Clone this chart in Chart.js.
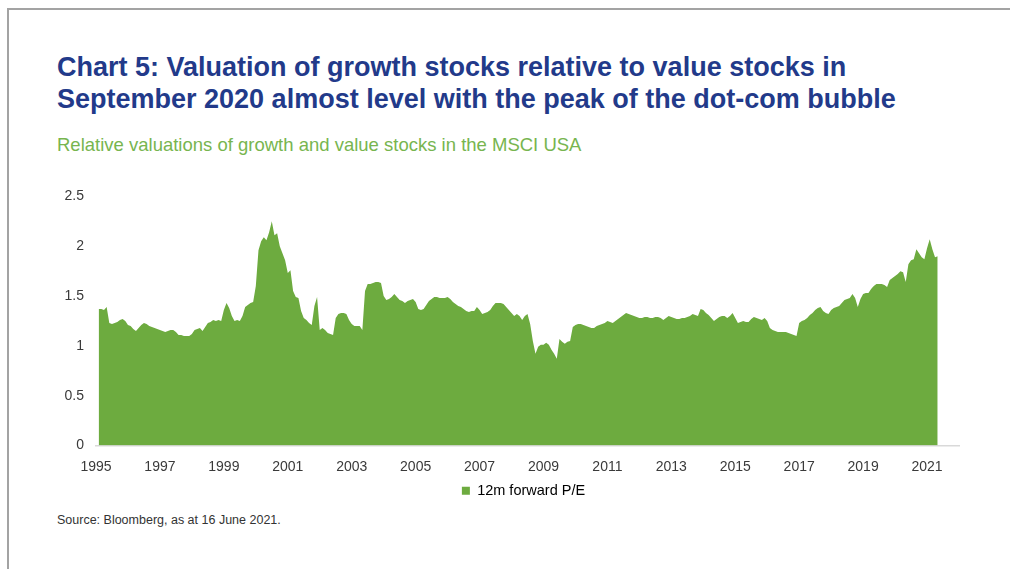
<!DOCTYPE html>
<html>
<head>
<meta charset="utf-8">
<script src="https://cdn.jsdelivr.net/npm/chart.js@4.4.1/dist/chart.umd.min.js"></script>
<style>
  html, body { margin: 0; padding: 0; background: #ffffff; }
  body { width: 1010px; height: 569px; position: relative; overflow: hidden;
         font-family: "Liberation Sans", Arial, sans-serif; }
  .frame { position: absolute; left: 7px; top: 8px; right: -10px; bottom: -10px;
           border-top: 2px solid #a3a3a3; border-left: 2px solid #a3a3a3; }
  .title { position: absolute; left: 57px; top: 51px; margin: 0;
           font-size: 27px; font-weight: bold; line-height: 32px; color: #223a8a; }
  .subtitle { position: absolute; left: 57px; top: 134px; margin: 0;
              font-size: 18.5px; color: #77b54f; }
  .source { position: absolute; left: 57px; top: 513px; margin: 0;
            font-size: 12.5px; color: #333333; }
  #wrap { position: absolute; left: 36px; top: 176px; width: 974px; height: 336px; }
</style>
</head>
<body>
<div class="frame"></div>
<h1 class="title">Chart 5: Valuation of growth stocks relative to value stocks in<br>September 2020 almost level with the peak of the dot-com bubble</h1>
<p class="subtitle">Relative valuations of growth and value stocks in the MSCI USA</p>
<div id="wrap"><canvas id="chart"></canvas></div>
<p class="source">Source: Bloomberg, as at 16 June 2021.</p>
<script>
// Month-end ratio of growth to value 12m forward P/E, MSCI USA, Feb 1995 - May 2021
const seriesName = '12m forward P/E';
const firstYear = 1995;
const firstMonth = 2;
const ratio = [
  // 1995 (Feb-Dec)
  1.37, 1.37, 1.36, 1.39, 1.23, 1.22, 1.23, 1.24, 1.26, 1.27, 1.25,
  // 1996
  1.21, 1.20, 1.17, 1.15, 1.18, 1.21, 1.23, 1.22, 1.20, 1.19, 1.18, 1.17,
  // 1997
  1.16, 1.15, 1.14, 1.15, 1.16, 1.16, 1.14, 1.11, 1.11, 1.10, 1.10, 1.10,
  // 1998
  1.12, 1.16, 1.17, 1.18, 1.15, 1.19, 1.23, 1.24, 1.26, 1.25, 1.26, 1.25,
  // 1999
  1.36, 1.43, 1.38, 1.30, 1.25, 1.26, 1.25, 1.30, 1.39, 1.41, 1.43, 1.44,
  // 2000
  1.60, 1.96, 2.05, 2.09, 2.06, 2.14, 2.25, 2.11, 2.13, 2.00, 1.93, 1.86,
  // 2001
  1.73, 1.76, 1.55, 1.49, 1.48, 1.35, 1.28, 1.26, 1.23, 1.21, 1.40, 1.49,
  // 2002
  1.16, 1.18, 1.16, 1.13, 1.12, 1.11, 1.28, 1.32, 1.33, 1.33, 1.32, 1.26,
  // 2003
  1.22, 1.20, 1.20, 1.20, 1.16, 1.55, 1.62, 1.62, 1.63, 1.64, 1.64, 1.63,
  // 2004
  1.50, 1.46, 1.47, 1.49, 1.52, 1.49, 1.46, 1.45, 1.43, 1.45, 1.46, 1.47,
  // 2005
  1.44, 1.37, 1.36, 1.37, 1.41, 1.45, 1.47, 1.49, 1.49, 1.48, 1.48, 1.48,
  // 2006
  1.49, 1.47, 1.44, 1.42, 1.40, 1.39, 1.37, 1.35, 1.34, 1.35, 1.35, 1.39,
  // 2007
  1.36, 1.32, 1.33, 1.34, 1.36, 1.40, 1.43, 1.43, 1.43, 1.42, 1.39, 1.36,
  // 2008
  1.33, 1.30, 1.32, 1.30, 1.26, 1.30, 1.32, 1.22, 1.05, 0.92, 0.99, 1.01,
  // 2009
  1.01, 1.03, 1.01, 0.96, 0.92, 0.87, 1.07, 1.04, 1.02, 1.04, 1.05, 1.19,
  // 2010
  1.21, 1.22, 1.22, 1.21, 1.20, 1.19, 1.18, 1.18, 1.20, 1.21, 1.22, 1.23,
  // 2011
  1.25, 1.24, 1.23, 1.25, 1.27, 1.29, 1.31, 1.33, 1.32, 1.31, 1.30, 1.29,
  // 2012
  1.28, 1.28, 1.29, 1.29, 1.28, 1.28, 1.29, 1.29, 1.28, 1.26, 1.28, 1.30,
  // 2013
  1.29, 1.28, 1.27, 1.27, 1.28, 1.28, 1.29, 1.30, 1.32, 1.31, 1.30, 1.37,
  // 2014
  1.36, 1.33, 1.31, 1.28, 1.25, 1.27, 1.29, 1.30, 1.30, 1.28, 1.30, 1.33,
  // 2015
  1.28, 1.23, 1.24, 1.25, 1.24, 1.24, 1.27, 1.29, 1.28, 1.27, 1.26, 1.28,
  // 2016
  1.25, 1.18, 1.16, 1.15, 1.14, 1.14, 1.14, 1.14, 1.13, 1.12, 1.11, 1.10,
  // 2017
  1.23, 1.25, 1.26, 1.28, 1.31, 1.33, 1.36, 1.38, 1.39, 1.35, 1.33, 1.32,
  // 2018
  1.36, 1.38, 1.39, 1.40, 1.43, 1.46, 1.47, 1.48, 1.52, 1.48, 1.39, 1.47,
  // 2019
  1.52, 1.53, 1.53, 1.57, 1.60, 1.62, 1.62, 1.62, 1.61, 1.59, 1.66, 1.68,
  // 2020
  1.70, 1.72, 1.75, 1.74, 1.64, 1.82, 1.86, 1.87, 1.97, 1.93, 1.89, 1.87,
  // 2021 (Jan-May)
  1.98, 2.07, 1.97, 1.89, 1.90
];
const yearTicks = [1995, 1997, 1999, 2001, 2003, 2005, 2007, 2009, 2011, 2013, 2015, 2017, 2019, 2021];
const valueTicks = [0, 0.5, 1, 1.5, 2, 2.5];

const green = '#6dab3f';
const tickColor = '#3a3a3a';
const fontFamily = '"Liberation Sans", Arial, sans-serif';
const tickFont = { family: fontFamily, size: 14 };

// each value sits at its month on a continuous year axis
const points = ratio.map((v, i) => ({ x: firstYear + (firstMonth - 1 + i) / 12, y: v }));

// centre the legend under the plot area rather than the whole canvas
const centerLegendOnPlot = {
  id: 'centerLegendOnPlot',
  afterLayout(chart) {
    const lg = chart.legend;
    if (!lg) return;
    const d = (chart.chartArea.left + chart.chartArea.right) / 2 - (lg.left + lg.right) / 2 - 4;
    lg.left += d;
    lg.right += d;
  }
};

new Chart(document.getElementById('chart'), {
  type: 'line',
  data: {
    datasets: [{
      label: seriesName,
      data: points,
      fill: 'origin',
      backgroundColor: green,
      borderColor: green,
      borderWidth: 0,
      pointRadius: 0,
      tension: 0
    }]
  },
  plugins: [centerLegendOnPlot],
  options: {
    responsive: true,
    maintainAspectRatio: false,
    animation: false,
    layout: { padding: { top: 17, right: 51, bottom: 4, left: 0 } },
    plugins: {
      legend: {
        position: 'bottom',
        labels: {
          color: tickColor,
          font: { family: fontFamily, size: 14.5 },
          boxWidth: 8,
          boxHeight: 8,
          padding: 10,
          generateLabels: () => [{
            text: seriesName,
            fillStyle: green,
            strokeStyle: green,
            lineWidth: 0,
            datasetIndex: 0
          }]
        }
      },
      tooltip: { enabled: false }
    },
    scales: {
      x: {
        type: 'linear',
        min: 1995,
        max: 2022,
        afterBuildTicks: (scale) => { scale.ticks = yearTicks.map(v => ({ value: v })); },
        afterFit: (scale) => { scale.height = 28; },
        grid: { display: false, drawTicks: false },
        border: { display: true, color: '#d9d9d9', width: 1.5 },
        ticks: {
          color: tickColor,
          font: tickFont,
          padding: 13,
          maxRotation: 0,
          autoSkip: false,
          callback: (v) => String(v)
        }
      },
      y: {
        min: 0,
        max: 2.5,
        afterBuildTicks: (scale) => { scale.ticks = valueTicks.map(v => ({ value: v })); },
        afterFit: (scale) => { scale.width = 60; },
        grid: { display: false, drawTicks: false },
        border: { display: false },
        ticks: {
          color: tickColor,
          font: tickFont,
          padding: 12,
          callback: (v) => String(v)
        }
      }
    }
  }
});
</script>
</body>
</html>
